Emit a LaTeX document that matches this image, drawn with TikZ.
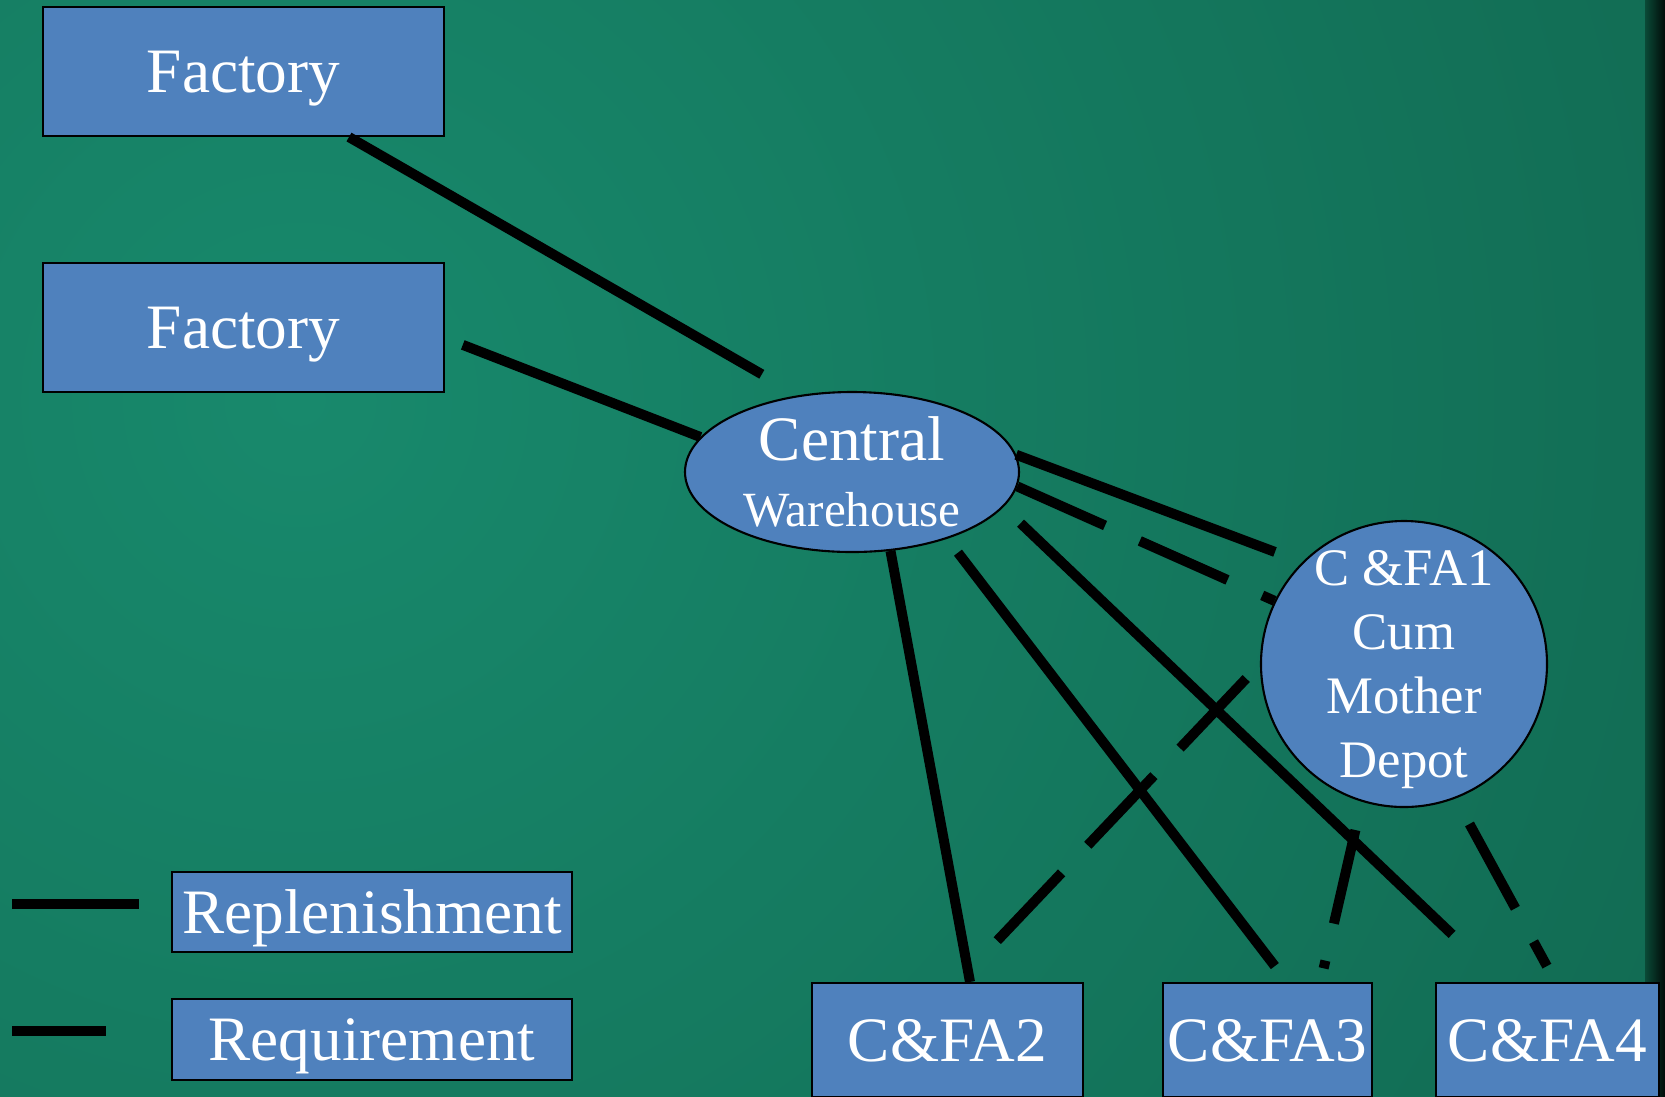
\documentclass[tikz,border=0pt]{standalone}
\usepackage{fontspec}
\setmainfont{Liberation Serif}
\usetikzlibrary{calc,shapes.geometric}
\definecolor{bgcolor}{HTML}{18896C}
\definecolor{bgdark}{HTML}{0A4A37}
\definecolor{boxcolor}{HTML}{4F81BD}

\begin{document}
\begin{tikzpicture}[
  box/.style={draw=black, line width=0.6pt, fill=boxcolor, text=white, inner sep=0pt, font=\fontsize{18}{21}\selectfont},
  rectbox/.style={box, text height=12pt, text depth=0pt},
  repl/.style={line width=0.1cm},
  req/.style={line width=0.1cm, dash pattern=on 0.96cm off 0.38cm}]
  % background
  \useasboundingbox (0,0) rectangle (16.65,-10.96);
  \begin{scope}
    \clip (0,0) rectangle (16.65,-10.96);
    \shade[inner color=bgcolor, outer color=bgdark] (3,-4) circle (32);
    \shade[left color=bgdark, right color=black!85!bgdark] (16.45,0) rectangle (16.65,-10.96);
  \end{scope}
  % factories
  \node[rectbox, minimum width=4.01cm, minimum height=1.29cm] (f1) at (2.435,-0.715) {Factory};
  \node[rectbox, minimum width=4.01cm, minimum height=1.29cm] (f2) at (2.435,-3.275) {Factory};
  % warehouse and depots
  \node[box, ellipse, inner sep=-2pt, minimum width=3.34cm, minimum height=1.60cm, align=center, font=\fontsize{18}{19}\selectfont] (cw) at (8.52,-4.72) {Central\\{\fontsize{14}{19}\selectfont Warehouse}};
  \node[box, circle, inner sep=-4pt, text depth=0pt, minimum size=2.86cm, align=center, font=\fontsize{15}{18.2}\selectfont] (cfa1) at (14.04,-6.64) {C \&FA1\\Cum\\Mother\\Depot};
  \node[rectbox, minimum width=2.71cm, minimum height=1.14cm] (cfa2) at (9.475,-10.40) {C\&FA2};
  \node[rectbox, minimum width=2.09cm, minimum height=1.14cm] (cfa3) at (12.675,-10.40) {C\&FA3};
  \node[rectbox, minimum width=2.23cm, minimum height=1.14cm] (cfa4) at (15.475,-10.40) {C\&FA4};
  % legend
  \node[rectbox, minimum width=4.0cm, minimum height=0.80cm] (lrepl) at (3.72,-9.12) {Replenishment};
  \node[rectbox, minimum width=4.0cm, minimum height=0.81cm] (lreq) at (3.72,-10.395) {Requirement};
  \draw[repl] ([xshift=-0.32cm,yshift=0.08cm]lrepl.west) -- ++(-1.27,0);
  \draw[req] ([xshift=-0.65cm,yshift=0.085cm]lreq.west) -- ++(-0.94,0);
  % replenishment lines
  \draw[repl, shorten >=0.42cm] ([xshift=1.055cm]f1.south) -- (cw.125);
  \draw[repl, shorten <=0.19cm] ([yshift=-0.105cm]f2.east) -- (cw.167);
  \draw[repl, shorten >=0.29cm] (cw.6) -- (cfa1.135);
  \draw[repl] (cw.-64) -- ([xshift=0.225cm]cfa2.north);
  \draw[repl, shorten <=0.175cm, shorten >=0.2cm] (cw.-35) -- ([xshift=0.195cm]cfa3.north);
  \draw[repl, shorten <=0.235cm, shorten >=0.69cm] (cw.-13) -- ([xshift=-0.455cm]cfa4.north);
  % requirement lines
  \draw[req] (cw.-5) -- (cfa1.154);
  \draw[req, shorten <=0.2cm, shorten >=0.57cm] (cfa1.west) -- ([xshift=0.105cm]cfa2.north);
  \draw[req, shorten <=0.29cm, shorten >=0.14cm] (cfa1.253) -- ([xshift=0.53cm]cfa3.north);
  \draw[req, shorten <=0.29cm, shorten >=0.18cm] (cfa1.-69) -- ([xshift=0.08cm]cfa4.north);
\end{tikzpicture}
\end{document}
